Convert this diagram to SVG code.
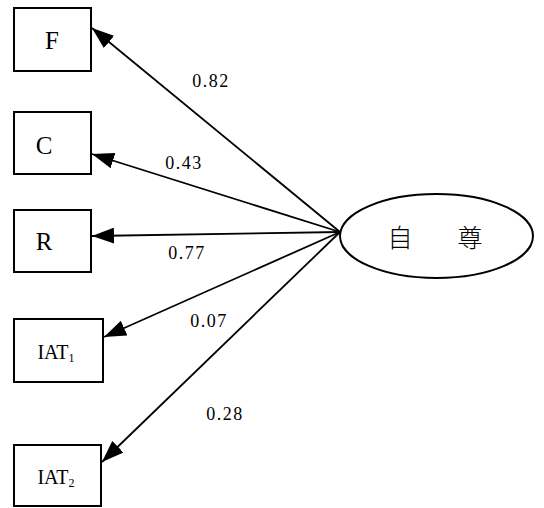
<svg xmlns="http://www.w3.org/2000/svg" width="544" height="508" viewBox="0 0 544 508">
<style>
.box{fill:#fff;stroke:#000;stroke-width:2}
.lbl{font-family:"Liberation Serif","Times New Roman",serif;fill:#000;text-anchor:middle}
.num{font-family:"Liberation Serif","Times New Roman",serif;font-size:18px;letter-spacing:1.5px;fill:#000;text-anchor:middle}
.edge{stroke:#000;stroke-width:1.8;fill:none;marker-end:url(#ah)}
</style>
<defs>
<marker id="ah" viewBox="0 0 22 16" refX="22" refY="8" markerWidth="22" markerHeight="16" markerUnits="userSpaceOnUse" orient="auto">
<path d="M0,0 L22,8 L0,16 z" fill="#000"/>
</marker>
</defs>
<rect width="544" height="508" fill="#fff"/>
<g id="connectors">
<line class="edge" x1="340" y1="232" x2="92" y2="28"/>
<line class="edge" x1="340" y1="232" x2="92" y2="154"/>
<line class="edge" x1="340" y1="232" x2="92" y2="236"/>
<line class="edge" x1="340" y1="232" x2="104" y2="337"/>
<line class="edge" x1="340" y1="232" x2="102" y2="462"/>
<text class="num" x="211" y="87">0.82</text>
<text class="num" x="184" y="169">0.43</text>
<text class="num" x="187" y="259">0.77</text>
<text class="num" x="209" y="327">0.07</text>
<text class="num" x="225" y="420">0.28</text>
</g>
<g id="F">
<rect class="box" x="14" y="8" width="77" height="63"/>
<text class="lbl" x="52" y="49" font-size="25">F</text>
</g>
<g id="C">
<rect class="box" x="14" y="112" width="77" height="62"/>
<text class="lbl" x="44" y="154" font-size="25">C</text>
</g>
<g id="R">
<rect class="box" x="14" y="210" width="77" height="62"/>
<text class="lbl" x="44" y="250" font-size="25">R</text>
</g>
<g id="IAT1">
<rect class="box" x="14" y="319" width="89" height="63"/>
<text class="lbl" x="56" y="359" font-size="20">IAT<tspan font-size="12" dy="3">1</tspan></text>
</g>
<g id="IAT2">
<rect class="box" x="14" y="445" width="87" height="61"/>
<text class="lbl" x="56" y="484" font-size="20">IAT<tspan font-size="12" dy="3">2</tspan></text>
</g>
<g id="self-esteem">
<ellipse cx="436.5" cy="236" rx="96.5" ry="42" fill="#fff" stroke="#000" stroke-width="2"/>
<text x="400" y="247" font-family="'Noto Sans CJK SC',sans-serif" font-size="25" font-weight="300" text-anchor="middle">自</text>
<text x="470" y="247" font-family="'Noto Sans CJK SC',sans-serif" font-size="25" font-weight="300" text-anchor="middle">尊</text>
</g>
</svg>
